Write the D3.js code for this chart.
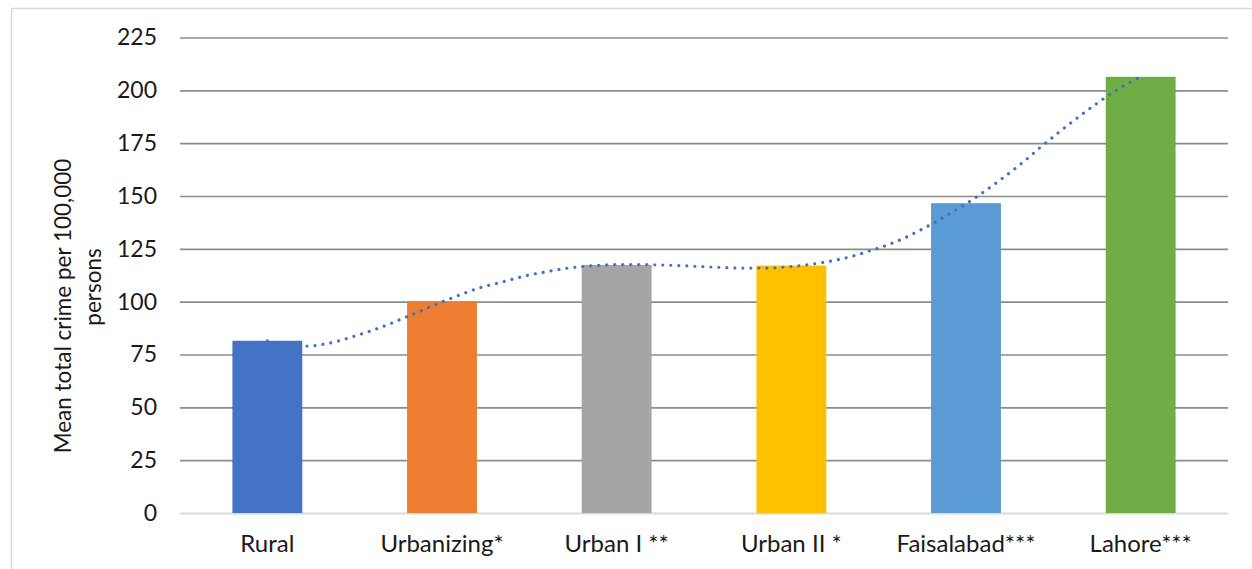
<!DOCTYPE html>
<html>
<head>
<meta charset="utf-8">
<script src="https://cdn.jsdelivr.net/npm/d3@7"></script>
<style>
  html, body { margin: 0; padding: 0; background: #ffffff; }
  svg { display: block; font-family: Lato, "Open Sans", sans-serif; }
</style>
</head>
<body>
<svg id="chart" width="1252" height="569"></svg>
<script>
// ---- data ----
const categories = ["Rural", "Urbanizing*", "Urban I **", "Urban II *", "Faisalabad***", "Lahore***"];
const meanCrime = [81.5, 100.2, 117.4, 117.1, 146.6, 206.4];
const barColors = ["#4472C4", "#ED7D31", "#A5A5A5", "#FFC000", "#5B9BD5", "#70AD47"];
const yTicks = [0, 25, 50, 75, 100, 125, 150, 175, 200, 225];
const yTitleLines = ["Mean total crime per 100,000", "persons"];
// trendline: category position (0 = Rural ... 5 = Lahore) and value
const trendPos = [0, 0.101, 0.176, 0.235, 0.328, 0.420, 0.512, 0.601, 0.689, 0.777, 0.864, 0.953, 1.040, 1.128, 1.218, 1.307, 1.399, 1.491, 1.581, 1.723, 1.863, 2.006, 2.147, 2.288, 2.430, 2.573, 2.714, 2.855, 2.996, 3.090, 3.183, 3.275, 3.366, 3.456, 3.546, 3.634, 3.718, 3.801, 3.884, 3.964, 4.044, 4.120, 4.196, 4.309, 4.420, 4.531, 4.641, 4.756, 4.834, 4.914, 4.996];
const trendVal = [81.4, 79.9, 79.1, 79.0, 79.9, 81.7, 84.0, 86.4, 89.1, 92.1, 95.1, 98.3, 101.2, 104.0, 106.6, 108.5, 110.5, 112.5, 113.9, 115.9, 117.0, 117.5, 117.5, 117.3, 116.8, 116.3, 115.9, 115.9, 116.6, 117.4, 118.6, 120.0, 121.9, 124.2, 126.7, 129.6, 133.0, 136.6, 140.5, 144.5, 148.6, 153.0, 157.6, 164.8, 172.6, 180.1, 187.2, 194.2, 198.6, 202.7, 206.3];

// ---- layout ----
const svg = d3.select("#chart");
const plot = { left: 180, right: 1228, top: 37.5, bottom: 513 };

// outer chart border
svg.append("rect")
  .attr("x", 11.5).attr("y", 8.5)
  .attr("width", 1270).attr("height", 600)
  .attr("fill", "none").attr("stroke", "#d9d9d9").attr("stroke-width", 1.5);

const x = d3.scaleBand().domain(categories).range([plot.left, plot.right])
  .paddingInner(0.6).paddingOuter(0.3);
const xPos = d3.scaleLinear().domain([-0.5, categories.length - 0.5]).range([plot.left, plot.right]);
const y = d3.scaleLinear().domain([0, 225]).range([plot.bottom, plot.top]);

// gridlines
const yAxis = d3.axisLeft(y).tickValues(yTicks).tickSize(-(plot.right - plot.left)).tickPadding(23).tickFormat(d3.format("d"));
const gY = svg.append("g").attr("transform", `translate(${plot.left},0)`).call(yAxis);
gY.select(".domain").remove();
gY.selectAll(".tick line")
  .attr("stroke", d => d === 0 ? "#d9d9d9" : "#8c8c8c")
  .attr("stroke-width", d => d === 0 ? 2 : 1.6);
gY.selectAll(".tick text")
  .attr("font-family", "Lato, sans-serif")
  .attr("font-size", 23).attr("fill", "#1a1a1a");

// bars
svg.append("g").selectAll("rect").data(categories).join("rect")
  .attr("x", d => x(d))
  .attr("width", x.bandwidth())
  .attr("y", (d, i) => y(meanCrime[i]))
  .attr("height", (d, i) => y(0) - y(meanCrime[i]))
  .attr("fill", (d, i) => barColors[i]);

// x axis labels
const xAxis = d3.axisBottom(x).tickSize(0).tickPadding(22);
const gX = svg.append("g").attr("transform", `translate(0,${plot.bottom})`).call(xAxis);
gX.select(".domain").remove();
gX.selectAll(".tick text")
  .attr("font-family", "Lato, sans-serif")
  .attr("font-size", 24).attr("fill", "#1a1a1a");

// trendline (dotted)
const line = d3.line()
  .x((d, i) => xPos(trendPos[i]))
  .y((d, i) => y(trendVal[i]))
  .curve(d3.curveMonotoneX);
svg.append("path")
  .attr("d", line(trendVal))
  .attr("fill", "none")
  .attr("stroke", "#4472C4")
  .attr("stroke-width", 3.2)
  .attr("stroke-linecap", "round")
  .attr("stroke-dasharray", "0.01 8");

// y title
const yt = svg.append("text")
  .attr("transform", `translate(0,306) rotate(-90)`)
  .attr("text-anchor", "middle")
  .attr("font-family", "Lato, sans-serif")
  .attr("font-size", 22.5).attr("fill", "#1a1a1a");
yt.append("tspan").attr("x", 0).attr("y", 71).text(yTitleLines[0]);
yt.append("tspan").attr("x", 19).attr("y", 101).text(yTitleLines[1]);
</script>
</body>
</html>
